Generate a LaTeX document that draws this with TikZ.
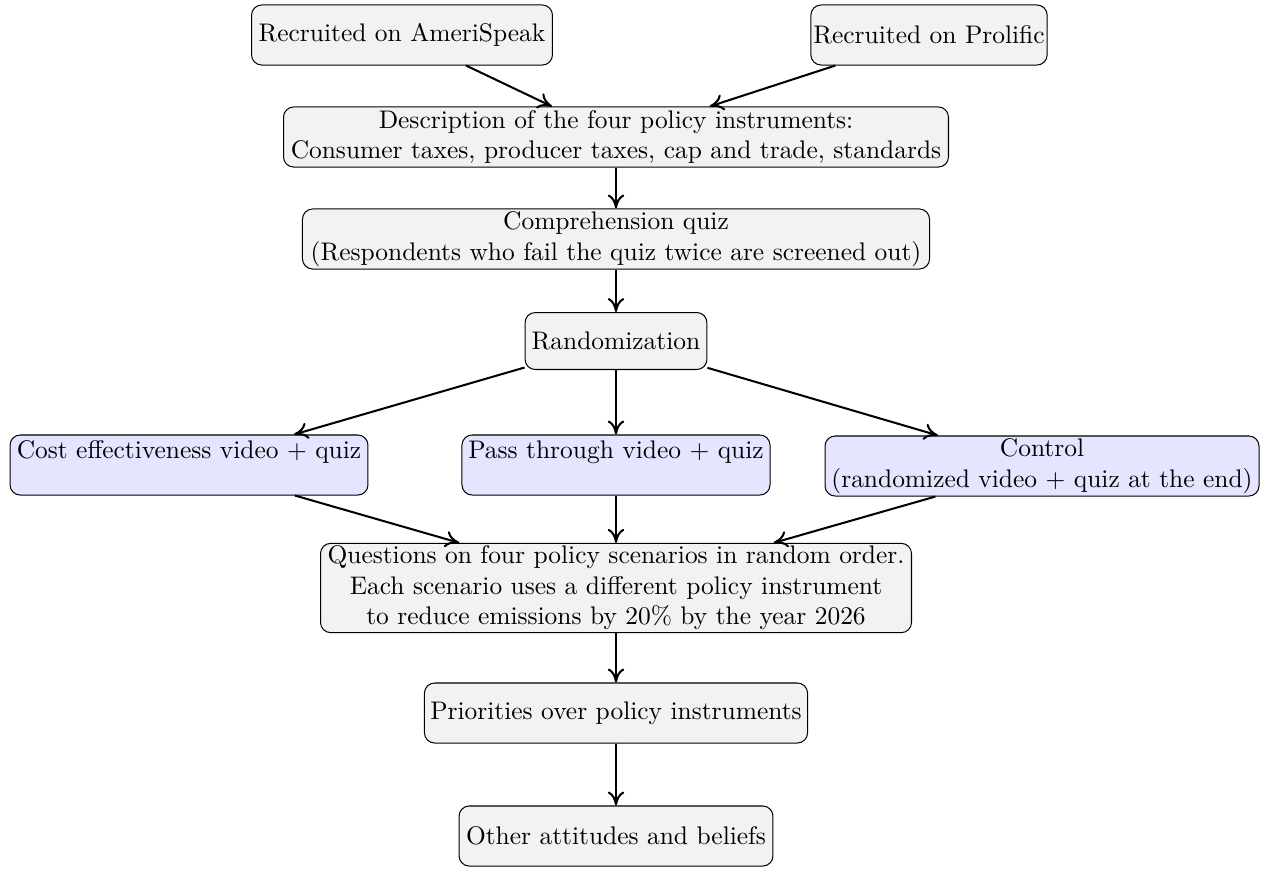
\documentclass[tikz,border=0pt]{standalone}
\usetikzlibrary{arrows.meta}
\begin{document}
\begin{tikzpicture}[x=0.3931pt, y=-0.3931pt,
  box/.style={draw, rounded corners=4pt, fill=gray!10, align=center, inner xsep=1pt, inner ysep=1pt, minimum height=23.6pt},
  bluebox/.style={box, fill=blue!10},
  arr/.style={-{To[length=5.5pt,width=6.5pt]}, thick}]
\useasboundingbox (0,0) rectangle (1267,877);
\node[box, minimum width=118.3pt] (ameri) at (402,35) {Recruited on AmeriSpeak};
\node[box, minimum width=92.8pt] (prol) at (929,35) {Recruited on Prolific};
\node[box, minimum width=261.4pt] (desc) at (616,137) {Description of the four policy instruments:\\Consumer taxes, producer taxes, cap and trade, standards};
\node[box, minimum width=246.5pt] (comp) at (616,239) {Comprehension quiz\\(Respondents who fail the quiz twice are screened out)};
\node[box, minimum width=71.5pt, minimum height=22.4pt] (rand) at (616,341) {Randomization};
\node[bluebox, minimum width=140.7pt] (cost) at (189,465) {Cost effectiveness video + quiz\\\mbox{}};
\node[bluebox, minimum width=121.1pt] (pass) at (616,465) {Pass through video + quiz\\\mbox{}};
\node[bluebox, minimum width=170.6pt] (ctrl) at (1042,466) {Control\\(randomized video + quiz at the end)};
\node[box, minimum width=232.3pt] (quest) at (616,588) {Questions on four policy scenarios in random order.\\Each scenario uses a different policy instrument\\to reduce emissions by 20\% by the year 2026};
\node[box, minimum width=150.6pt] (prio) at (616,713) {Priorities over policy instruments};
\node[box, minimum width=123.4pt] (other) at (616,836) {Other attitudes and beliefs};
\draw[arr] (ameri) -- (desc);
\draw[arr] (prol) -- (desc);
\draw[arr] (desc) -- (comp);
\draw[arr] (comp) -- (rand);
\draw[arr] (rand) -- (cost);
\draw[arr] (rand) -- (pass);
\draw[arr] (rand) -- (ctrl);
\draw[arr] (cost) -- (quest);
\draw[arr] (pass) -- (quest);
\draw[arr] (ctrl) -- (quest);
\draw[arr] (quest) -- (prio);
\draw[arr] (prio) -- (other);
\end{tikzpicture}
\end{document}
